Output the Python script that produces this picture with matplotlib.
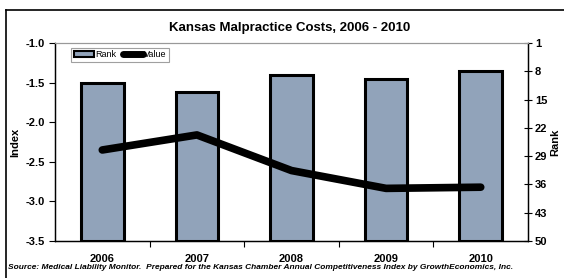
"""
Kansas Malpractice Costs, 2006 - 2010 (Index vs. Rank)
"""

import matplotlib
matplotlib.use('Agg')
import matplotlib.pyplot as plt
import numpy as np
from matplotlib.patches import Patch
from matplotlib.lines import Line2D

plt.rcParams['font.family'] = ['Liberation Sans', 'DejaVu Sans']
plt.rcParams['font.weight'] = 'bold'

# Data
years = ['2006', '2007', '2008', '2009', '2010']
rank = [11, 13, 9, 10, 8]
index_value = [-2.35, -2.16, -2.61, -2.835, -2.82]

bar_color = '#91A3BA'

fig = plt.figure(figsize=(5.64, 2.78), dpi=100)
ax = fig.add_axes([0.0975, 0.133, 0.8387, 0.712])
ax2 = ax.twinx()

x = np.arange(len(years))

# Sloupce (rank, pravá osa, obrácená)
ax2.bar(x, [r - 50 for r in rank], bottom=50, width=0.45,
        color=bar_color, edgecolor='black', linewidth=2.2)
ax2.set_ylim(50, 1)
ax2.set_yticks([1, 8, 15, 22, 29, 36, 43, 50])
ax2.tick_params(axis='y', direction='inout', length=6, width=0.8,
                labelsize=8, pad=2)
ax2.set_ylabel('Rank', fontsize=8, fontweight='bold', labelpad=2)

# Čára (index, levá osa)
ax.set_zorder(ax2.get_zorder() + 1)
ax.patch.set_visible(False)
ax.plot(x, index_value, color='black', linewidth=5.5, solid_capstyle='round')
ax.set_ylim(-3.5, -1.0)
ax.set_yticks(np.arange(-3.5, -0.99, 0.5))
ax.set_yticklabels([f'{v:.1f}' for v in np.arange(-3.5, -0.99, 0.5)])
ax.tick_params(axis='y', direction='out', length=4, width=0.8,
               labelsize=8, pad=3)
ax.set_ylabel('Index', fontsize=8, fontweight='bold', labelpad=4)

ax.set_xlim(-0.5, len(years) - 0.5)
ax.set_xticks(x)
ax.set_xticklabels(years)
ax.set_xticks(np.arange(0.5, len(years) - 0.5, 1), minor=True)
ax.tick_params(axis='x', which='major', length=0, labelsize=8, pad=9)
ax.tick_params(axis='x', which='minor', direction='out', length=4, width=0.8)

for a in (ax, ax2):
    a.spines['top'].set_color('#999999')
    for s in ('left', 'right', 'bottom'):
        a.spines[s].set_linewidth(0.9)

handles = [Patch(facecolor=bar_color, edgecolor='black', linewidth=1.5),
           Line2D([0], [0], color='black', linewidth=5, solid_capstyle='round')]
leg = ax.legend(handles, ['Rank', 'Value'], loc='upper left',
                bbox_to_anchor=(0.025, 1.0), ncol=2,
                frameon=True, fancybox=False, edgecolor='#888888',
                handlelength=2.2, handletextpad=0.1, columnspacing=0.8,
                borderpad=0.3, prop={'weight': 'normal', 'size': 6.5})
leg.get_frame().set_linewidth(0.8)

fig.text(0.513, 0.898, 'Kansas Malpractice Costs, 2006 - 2010',
         ha='center', va='center', fontsize=9.5, fontweight='bold')

fig.text(0.014, 0.036,
         'Source: Medical Liability Monitor.  Prepared for the Kansas Chamber '
         'Annual Competitiveness Index by GrowthEconomics, Inc.',
         ha='left', va='center', fontsize=6.0, fontweight='bold', style='italic')

# Rámeček
fig.add_artist(Line2D([0.0106, 0.0106], [0.0, 0.964], color='black', linewidth=1.2))
fig.add_artist(Line2D([0.0106, 1.0], [0.964, 0.964], color='black', linewidth=1.2))

plt.savefig('out.png', dpi=100, facecolor='white')
plt.close()
